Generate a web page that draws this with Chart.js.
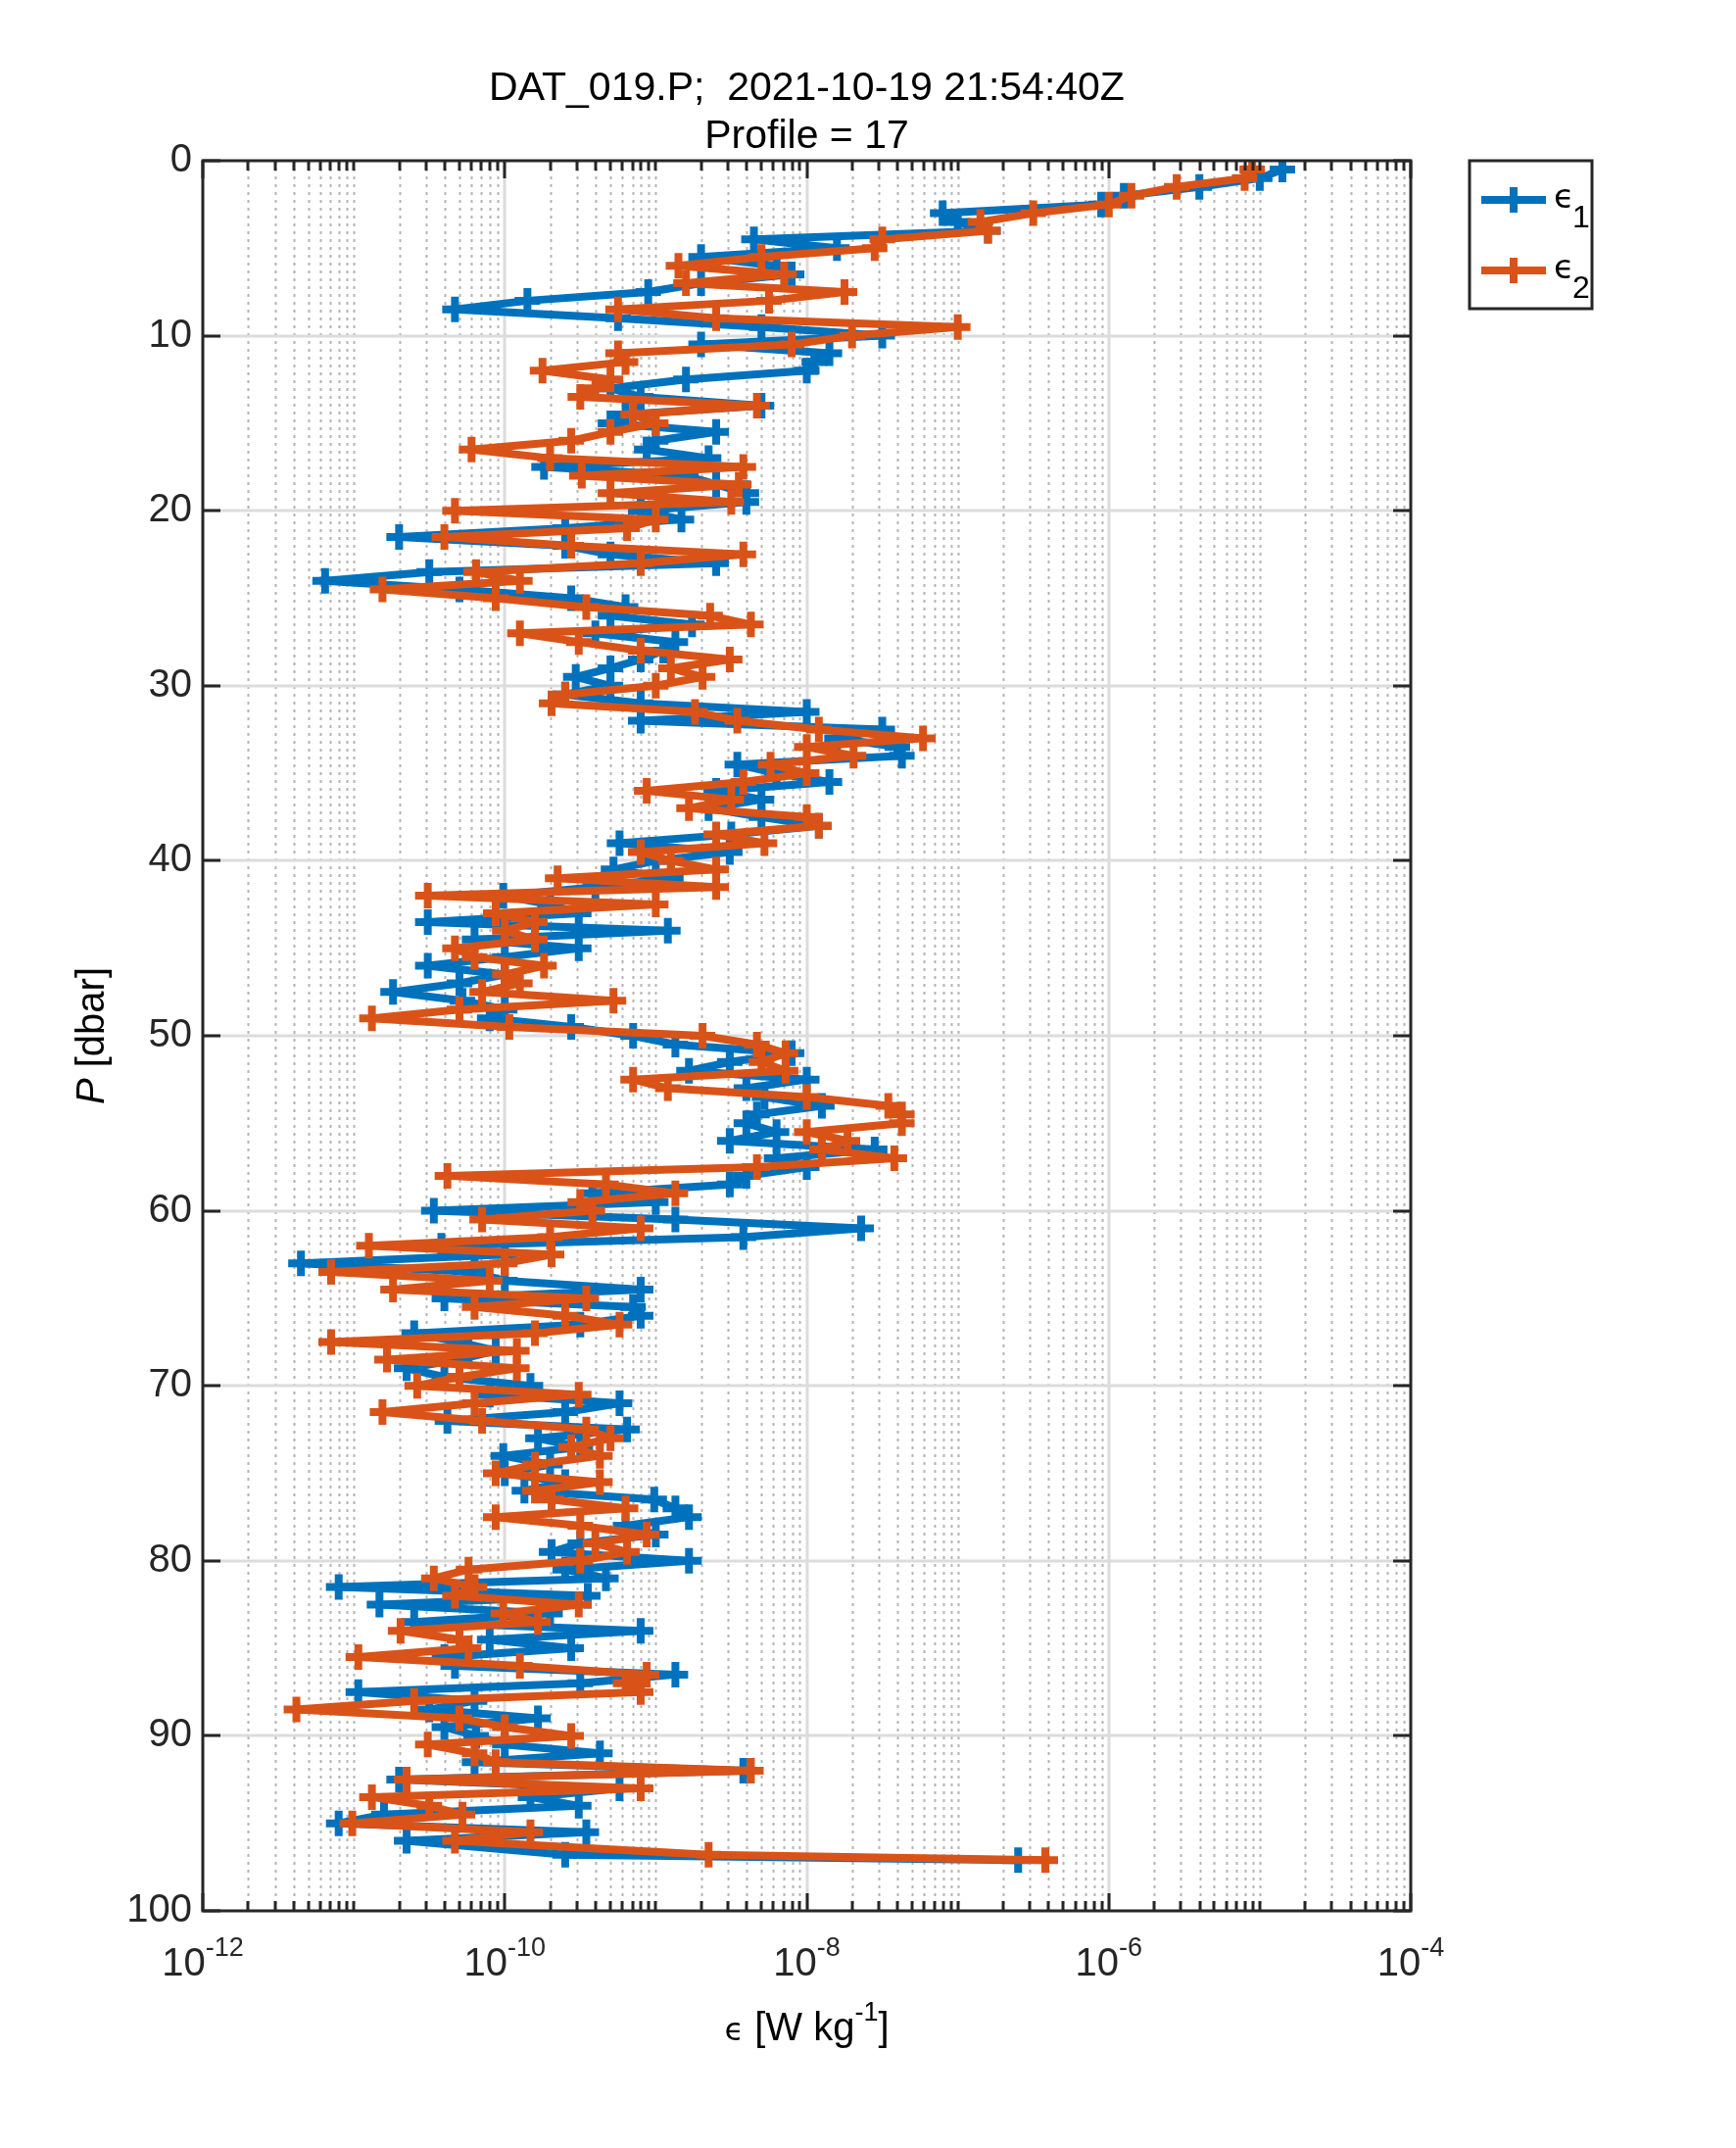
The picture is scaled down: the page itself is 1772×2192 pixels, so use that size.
<!DOCTYPE html>
<html><head><meta charset="utf-8">
<script src="https://cdn.jsdelivr.net/npm/chart.js@4.4.0/dist/chart.umd.min.js"></script>
<style>html,body{margin:0;padding:0;background:#fff;} #wrap{width:1772px;height:2192px;position:relative;}</style>
</head><body><div id="wrap"><canvas id="c" width="1772" height="2192"></canvas></div>
<script>
const titleLines = ['DAT_019.P;  2021-10-19 21:54:40Z', 'Profile = 17'];
const seriesLabels = ['ϵ1', 'ϵ2'];
const seriesColors = ['#0072BD', '#D95319'];
const xTickExponents = [-12, -10, -8, -6, -4];
const yTicks = [0, 10, 20, 30, 40, 50, 60, 70, 80, 90, 100];

// pressure [dbar]
const pressure = [0.5,1,1.5,2,2.5,3,3.5,4,4.5,5,5.5,6,6.5,7,7.5,8,8.5,9,9.5,10,10.5,11,
11.5,12,12.5,13,13.5,14,14.5,15,15.5,16,16.5,17,17.5,18,18.5,19,19.5,20,20.5,21,21.5,
22,22.5,23,23.5,24,24.5,25,25.5,26,26.5,27,27.5,28,28.5,29,29.5,30,30.5,31,31.5,32,32.5,33,
33.5,34,34.5,35,35.5,36,36.5,37,37.5,38,38.5,39,39.5,40,40.5,41,41.5,42,42.5,43,43.5,
44,44.5,45,45.5,46,46.5,47,47.5,48,48.5,49,49.5,50,50.5,51,51.5,52,52.5,53,53.5,54,54.5,
55,55.5,56,56.5,57,57.5,58,58.5,59,59.5,60,60.5,61,61.5,62,62.5,63,63.5,64,64.5,65,65.5,
66,66.5,67,67.5,68,68.5,69,69.5,70,70.5,71,71.5,72,72.5,73,73.5,74,74.5,75,75.5,76,76.5,77,
77.5,78,78.5,79,79.5,80,80.5,81,81.5,82,82.5,83,83.5,84,84.5,85,85.5,86,86.5,87,87.5,88,
88.5,89,89.5,90,90.5,91,91.5,92,92.5,93,93.5,94,94.5,95,95.5,96,96.8,97.1];

// log10 of epsilon_1 [W/kg]
const log10Eps1 = [-4.85,-5.0,-5.4,-5.9,-6.05,-7.1,-7.0,-6.8,-8.35,-7.8,-8.7,-8.2,-8.1,-8.7,-9.05,-9.85,-10.33,-9.25,-8.3,-7.5,-8.7,-7.85,
-7.95,-8.0,-8.8,-9.3,-9.1,-8.3,-9.2,-9.3,-8.6,-9.0,-9.06,-8.65,-9.74,-8.8,-8.6,-8.4,-8.4,-9.1,-8.83,-9.6,-10.7,
-9.6,-9.3,-8.6,-10.5,-11.19,-10.3,-9.56,-9.2,-9.3,-8.76,-9.4,-8.87,-8.95,-9.1,-9.3,-9.53,-9.3,-9.6,-9.1,-8.0,-9.1,-7.5,-7.8,
-7.4,-7.37,-8.46,-8.2,-7.85,-8.6,-8.3,-8.65,-8.3,-7.92,-8.5,-9.24,-8.51,-9.0,-9.28,-8.9,-9.4,-10.01,-9.7,-9.51,-10.51,
-8.92,-10.2,-9.51,-10.0,-10.51,-10.0,-10.3,-10.74,-10.28,-10.0,-10.1,-9.56,-9.15,-8.87,-8.1,-8.51,-8.78,-8.0,-8.4,-8.28,-7.9,-8.33,
-8.4,-8.2,-8.51,-7.55,-8.2,-8.0,-8.4,-8.51,-9.42,-9.0,-10.47,-8.87,-7.64,-8.42,-10.42,-10.0,-11.35,-10.2,-10.0,-9.1,-10.4,-9.15,
-9.1,-9.5,-10.6,-10.3,-10.06,-10.3,-10.65,-10.4,-9.83,-10.1,-9.24,-9.6,-10.38,-9.19,-9.78,-9.5,-10.01,-9.7,-10.0,-9.6,-9.87,-9.01,-8.87,
-8.78,-9.2,-9.0,-9.5,-9.69,-8.78,-9.6,-9.33,-11.1,-9.45,-10.83,-9.7,-10.6,-9.1,-10.1,-9.56,-10.4,-10.33,-8.87,-9.5,-10.97,-10.2,
-10.5,-9.78,-10.4,-10.19,-10.0,-9.37,-10.2,-8.42,-10.7,-9.24,-9.83,-9.51,-10.8,-11.1,-9.46,-10.65,-9.6,-6.6];

// log10 of epsilon_2 [W/kg]
const log10Eps2 = [-5.05,-5.1,-5.55,-5.85,-6.0,-6.5,-6.85,-6.8,-7.5,-7.55,-8.3,-8.85,-8.15,-8.8,-7.75,-8.25,-9.25,-8.6,-7.0,-7.7,-8.1,-9.25,
-9.2,-9.75,-9.3,-9.4,-9.5,-8.33,-9.15,-9.0,-9.3,-9.56,-10.22,-9.7,-8.42,-9.49,-8.45,-9.3,-8.5,-10.33,-9.0,-9.19,-10.4,
-9.56,-8.42,-9.1,-10.19,-9.9,-10.81,-10.06,-9.46,-8.64,-8.37,-9.9,-9.51,-9.1,-8.51,-8.9,-8.69,-9.0,-9.6,-9.69,-8.74,-8.46,-7.92,-7.23,
-8.0,-7.69,-8.24,-8.0,-8.42,-9.06,-8.5,-8.78,-8.0,-7.92,-8.6,-8.28,-9.1,-8.9,-8.6,-9.65,-8.6,-10.51,-9.0,-10.06,-9.8,
-10.0,-9.8,-10.33,-10.2,-9.74,-10.0,-9.9,-10.15,-9.28,-10.3,-10.88,-9.97,-8.69,-8.33,-8.14,-8.3,-8.14,-9.15,-8.92,-8.0,-7.46,-7.37,
-7.37,-8.0,-7.73,-7.9,-7.42,-8.33,-10.38,-9.33,-8.87,-9.5,-9.42,-10.15,-9.1,-9.7,-10.9,-9.69,-10.0,-11.15,-10.1,-10.74,-9.46,-10.2,
-9.6,-9.24,-9.8,-11.15,-9.92,-10.78,-9.92,-10.3,-10.58,-9.51,-10.2,-10.81,-10.15,-9.46,-9.3,-9.56,-9.37,-9.8,-10.06,-9.37,-9.8,-9.69,-9.2,
-10.06,-9.5,-9.06,-9.4,-9.19,-9.5,-10.24,-10.47,-10.2,-10.33,-9.51,-10.01,-9.78,-10.69,-10.3,-10.24,-10.97,-9.9,-9.06,-9.2,-9.1,-10.6,
-11.38,-10.3,-10.0,-9.56,-10.51,-10.2,-10.06,-8.37,-10.65,-9.1,-10.88,-10.5,-10.28,-11.01,-9.83,-10.33,-8.65,-6.42];

const FONT = '"Liberation Sans", Arial, Helvetica, sans-serif';
const INK = '#262626';

function toPoints(logs) {
  return pressure.map((p, i) => ({ x: Math.pow(10, logs[i]), y: p }));
}

function line(ctx, x1, y1, x2, y2) {
  ctx.beginPath(); ctx.moveTo(x1, y1); ctx.lineTo(x2, y2); ctx.stroke();
}

const matlabAxes = {
  id: 'matlabAxes',
  beforeDatasetsDraw(chart) {
    const { ctx, chartArea: ca, scales: { x, y } } = chart;
    ctx.save();
    ctx.lineWidth = 2; ctx.strokeStyle = '#b4b4b4'; ctx.setLineDash([3, 5]);
    for (let k = -12; k < -4; k++) {
      for (let m = 1; m <= 9; m++) {
        if (m === 1 && xTickExponents.includes(k)) continue;
        const px = Math.round(x.getPixelForValue(m * Math.pow(10, k))) + 0.5;
        line(ctx, px, ca.top, px, ca.bottom);
      }
    }
    ctx.setLineDash([]); ctx.strokeStyle = '#dcdcdc'; ctx.lineWidth = 3;
    xTickExponents.forEach(k => {
      const px = Math.round(x.getPixelForValue(Math.pow(10, k)));
      if (px > ca.left + 2 && px < ca.right - 2) line(ctx, px, ca.top, px, ca.bottom);
    });
    yTicks.forEach(v => {
      const py = Math.round(y.getPixelForValue(v));
      if (py > ca.top + 2 && py < ca.bottom - 2) line(ctx, ca.left, py, ca.right, py);
    });
    ctx.restore();
  },
  afterDatasetsDraw(chart) {
    const { ctx, chartArea: ca, scales: { x, y } } = chart;
    ctx.save();
    ctx.strokeStyle = INK; ctx.lineWidth = 3;
    for (let k = -12; k <= -4; k++) {
      for (let m = 1; m <= 9; m++) {
        if (k === -4 && m > 1) break;
        const major = (m === 1 && xTickExponents.includes(k));
        const len = major ? 18 : 10;
        const px = Math.round(x.getPixelForValue(m * Math.pow(10, k)));
        line(ctx, px, ca.bottom, px, ca.bottom - len);
        line(ctx, px, ca.top, px, ca.top + len);
      }
    }
    yTicks.forEach(v => {
      const py = Math.round(y.getPixelForValue(v));
      line(ctx, ca.left, py, ca.left + 18, py);
      line(ctx, ca.right, py, ca.right - 18, py);
    });
    ctx.strokeRect(ca.left, ca.top, ca.right - ca.left, ca.bottom - ca.top);

    // legend
    const lx = ca.right + 60, ly = ca.top, lw = 125, lh = 151;
    ctx.fillStyle = '#fff';
    ctx.fillRect(lx, ly, lw, lh);
    ctx.strokeStyle = INK; ctx.lineWidth = 3;
    ctx.strokeRect(lx, ly, lw, lh);
    chart.data.datasets.slice().sort((a, b) => a.legendIndex - b.legendIndex).forEach((ds, i) => {
      const cy = ly + 40 + i * 72;
      ctx.strokeStyle = ds.borderColor; ctx.lineWidth = 8;
      line(ctx, lx + 12, cy, lx + 78, cy);
      line(ctx, lx + 32, cy, lx + 58, cy);
      line(ctx, lx + 45, cy - 13, lx + 45, cy + 13);
      ctx.fillStyle = '#000';
      ctx.textBaseline = 'alphabetic'; ctx.textAlign = 'left';
      ctx.font = '34px "DejaVu Sans", ' + FONT;
      ctx.fillText(ds.label.charAt(0), lx + 86, cy + 8);
      const w = ctx.measureText(ds.label.charAt(0)).width;
      ctx.font = '32px ' + FONT;
      ctx.fillText(ds.label.slice(1), lx + 86 + w - 2, cy + 28);
    });
    ctx.restore();
  },
  afterDraw(chart) {
    const { ctx, chartArea: ca, scales: { x } } = chart;
    const cx = (ca.left + ca.right) / 2;
    ctx.save();
    ctx.fillStyle = '#000';
    ctx.textBaseline = 'alphabetic';
    ctx.textAlign = 'center';
    ctx.font = '41px ' + FONT;
    ctx.fillText(titleLines[0], cx, 102);
    ctx.fillText(titleLines[1], cx, 151);
    ctx.fillStyle = INK;
    xTickExponents.forEach(k => {
      const px = x.getPixelForValue(Math.pow(10, k));
      ctx.font = '40px ' + FONT;
      const base = '10';
      const wb = ctx.measureText(base).width;
      ctx.font = '27px ' + FONT;
      const sup = String(k);
      const ws = ctx.measureText(sup).width;
      const start = px - (wb + ws) / 2;
      ctx.textAlign = 'left';
      ctx.font = '40px ' + FONT;
      ctx.fillText(base, start, 2016);
      ctx.font = '27px ' + FONT;
      ctx.fillText(sup, start + wb, 1996);
    });
    ctx.fillStyle = '#000';
    const parts = [
      { t: 'ϵ', f: '32px "DejaVu Sans", ' + FONT, dy: 0 },
      { t: ' [W kg', f: '40px ' + FONT, dy: 0 },
      { t: '-1', f: '27px ' + FONT, dy: -20 },
      { t: ']', f: '40px ' + FONT, dy: 0 }
    ];
    let tot = 0;
    parts.forEach(p => { ctx.font = p.f; p.w = ctx.measureText(p.t).width; tot += p.w; });
    let sx = cx - tot / 2;
    ctx.textAlign = 'left';
    parts.forEach(p => { ctx.font = p.f; ctx.fillText(p.t, sx, 2082 + p.dy); sx += p.w; });
    ctx.save();
    ctx.translate(95, (ca.top + ca.bottom) / 2);
    ctx.rotate(-Math.PI / 2);
    ctx.textBaseline = 'middle';
    ctx.font = 'italic 40px ' + FONT;
    const wP = ctx.measureText('P').width;
    ctx.font = '40px ' + FONT;
    const wR = ctx.measureText(' [dbar]').width;
    let s = -(wP + wR) / 2;
    ctx.font = 'italic 40px ' + FONT;
    ctx.fillText('P', s, 0);
    ctx.font = '40px ' + FONT;
    ctx.fillText(' [dbar]', s + wP, 0);
    ctx.restore();
    ctx.restore();
  }
};

Chart.defaults.font.family = FONT;

new Chart(document.getElementById('c'), {
  type: 'scatter',
  data: {
    datasets: [
      {
        label: seriesLabels[0], legendIndex: 0, data: toPoints(log10Eps1),
        borderColor: seriesColors[0], backgroundColor: seriesColors[0],
        showLine: true, borderWidth: 8, tension: 0,
        borderJoinStyle: 'round', borderCapStyle: 'round',
        pointStyle: 'cross', pointRadius: 13, pointBorderWidth: 8, pointHoverRadius: 13,
        order: 1
      },
      {
        label: seriesLabels[1], legendIndex: 1, data: toPoints(log10Eps2),
        borderColor: seriesColors[1], backgroundColor: seriesColors[1],
        showLine: true, borderWidth: 8, tension: 0,
        borderJoinStyle: 'round', borderCapStyle: 'round',
        pointStyle: 'cross', pointRadius: 13, pointBorderWidth: 8, pointHoverRadius: 13,
        order: 0
      }
    ]
  },
  options: {
    responsive: false,
    devicePixelRatio: 1,
    animation: false,
    layout: { padding: { left: 20, right: 332, top: 164, bottom: 242 } },
    plugins: { legend: { display: false }, title: { display: false }, tooltip: { enabled: false } },
    scales: {
      x: {
        type: 'logarithmic', min: 1e-12, max: 1e-4, display: false
      },
      y: {
        type: 'linear', min: 0, max: 100, reverse: true,
        afterBuildTicks: s => { s.ticks = yTicks.map(v => ({ value: v })); },
        afterFit: s => { s.width = 187; },
        grid: { display: false, drawTicks: false, tickLength: 0 },
        border: { display: false },
        ticks: { color: INK, font: { size: 40, family: FONT }, padding: 11 }
      }
    }
  },
  plugins: [matlabAxes]
});
</script>
</body></html>
